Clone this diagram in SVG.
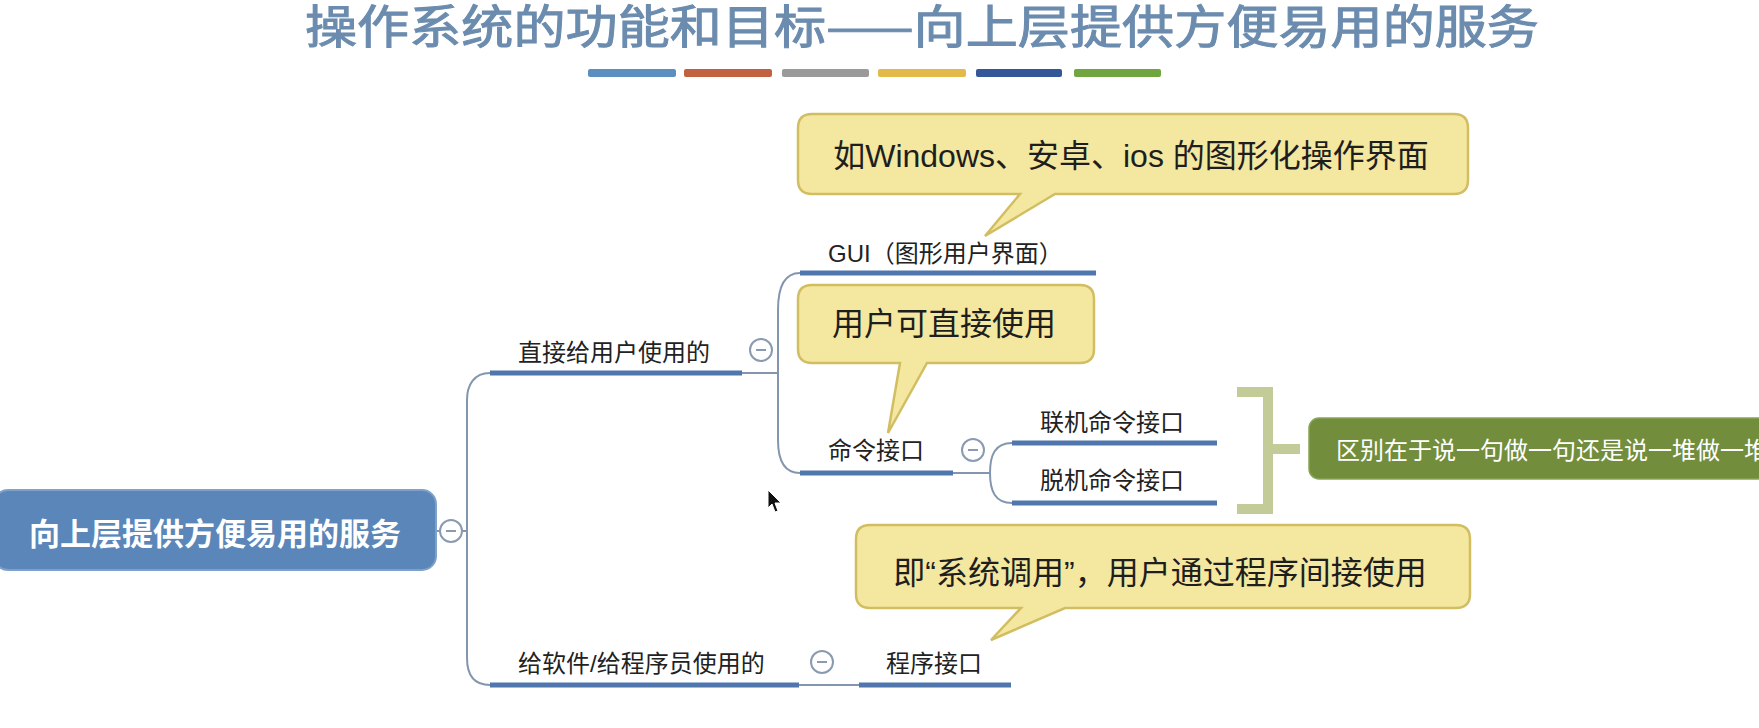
<svg xmlns="http://www.w3.org/2000/svg" width="1759" height="728" viewBox="0 0 1759 728">
<style>
.lbl{font-family:"Liberation Sans","Noto Sans CJK SC",sans-serif;font-size:24px;fill:#222}
.call{font-family:"Liberation Sans","Noto Sans CJK SC",sans-serif;font-size:32px;fill:#1e1e1e;text-anchor:middle}
.callout{fill:#f4e79f;stroke:#d2be62;stroke-width:2.5}
.ul{stroke:#4f77ad;stroke-width:5;fill:none;stroke-linecap:butt}
.conn{stroke:#8396ae;stroke-width:2;fill:none}
.tog circle{fill:#fff;stroke:#8a9ab0;stroke-width:2}
.tog line{stroke:#8a9ab0;stroke-width:2}
</style>
<rect width="1759" height="728" fill="#ffffff"/>
<g id="title">
<text x="305" y="43" font-family="Noto Sans CJK SC,sans-serif" font-size="46" fill="#6b8cae" stroke="#6b8cae" stroke-width="1" textLength="1234" lengthAdjust="spacingAndGlyphs">操作系统的功能和目标——向上层提供方便易用的服务</text>
<rect x="588" y="69" width="88" height="8" rx="2" fill="#5b8fc0"/>
<rect x="684" y="69" width="88" height="8" rx="2" fill="#c0623f"/>
<rect x="782" y="69" width="87" height="8" rx="2" fill="#9a9a9a"/>
<rect x="878" y="69" width="88" height="8" rx="2" fill="#e3b94a"/>
<rect x="976" y="69" width="86" height="8" rx="2" fill="#34579a"/>
<rect x="1074" y="69" width="87" height="8" rx="2" fill="#6fa640"/>
</g>
<g id="connectors">
<path class="conn" d="M436,531 H467"/>
<path class="conn" d="M490,373 C474,373 467,385 467,400 V658 C467,675 474,685 490,685"/>
<path class="conn" d="M742,373 H778"/>
<path class="conn" d="M800,273 C785,273 778,285 778,310 V440 C778,462 785,473 800,473"/>
<path class="conn" d="M953,473 H990"/>
<path class="conn" d="M1012,443 C995,443 990,455 990,473 C990,491 995,503 1012,503"/>
<path class="conn" d="M799,685 H859"/>
<path d="M1237,392 H1268 V509 H1237 M1268,449 H1300" fill="none" stroke="#c3cc98" stroke-width="10"/>
</g>
<g id="root">
<rect x="-6" y="490" width="442" height="80" rx="14" fill="#5a86b9" stroke="#7fa0c8" stroke-width="2"/>
<text x="215" y="545" text-anchor="middle" font-family="Liberation Sans,Noto Sans CJK SC,sans-serif" font-size="31" font-weight="bold" fill="#fff">向上层提供方便易用的服务</text>
<g class="tog"><circle cx="451" cy="531" r="11"/><line x1="446" y1="531" x2="456" y2="531"/></g>
</g>
<g id="n-direct">
<text class="lbl" x="518" y="361">直接给用户使用的</text>
<line class="ul" x1="490" y1="373" x2="742" y2="373"/>
<g class="tog"><circle cx="761" cy="350" r="11"/><line x1="756" y1="350" x2="766" y2="350"/></g>
</g>
<g id="n-gui">
<text class="lbl" x="828" y="262">GUI（图形用户界面）</text>
<line class="ul" x1="800" y1="273" x2="1096" y2="273"/>
</g>
<g id="n-cmd">
<text class="lbl" x="828" y="459">命令接口</text>
<line class="ul" x1="800" y1="473" x2="953" y2="473"/>
<g class="tog"><circle cx="973" cy="450" r="11"/><line x1="968" y1="450" x2="978" y2="450"/></g>
</g>
<g id="n-online">
<text class="lbl" x="1040" y="431">联机命令接口</text>
<line class="ul" x1="1012" y1="443" x2="1217" y2="443"/>
</g>
<g id="n-offline">
<text class="lbl" x="1040" y="489">脱机命令接口</text>
<line class="ul" x1="1012" y1="503" x2="1217" y2="503"/>
</g>
<g id="n-summary">
<rect x="1309" y="418" width="470" height="61" rx="10" fill="#728e3c" stroke="#8aa456" stroke-width="1.5"/>
<text x="1336" y="459" font-family="Liberation Sans,Noto Sans CJK SC,sans-serif" font-size="24" fill="#fff">区别在于说一句做一句还是说一堆做一堆</text>
</g>
<g id="n-soft">
<text class="lbl" x="518" y="672">给软件/给程序员使用的</text>
<line class="ul" x1="490" y1="685" x2="799" y2="685"/>
<g class="tog"><circle cx="822" cy="662" r="11"/><line x1="817" y1="662" x2="827" y2="662"/></g>
</g>
<g id="n-prog">
<text class="lbl" x="886" y="672">程序接口</text>
<line class="ul" x1="859" y1="685" x2="1011" y2="685"/>
</g>
<g id="c-gui">
<path class="callout" d="M812,114 H1454 Q1468,114 1468,128 V180 Q1468,194 1454,194 H1055 L985,236 L1020,194 H812 Q798,194 798,180 V128 Q798,114 812,114 Z"/>
<text class="call" x="1131" y="167" font-size="33">如Windows、安卓、ios 的图形化操作界面</text>
</g>
<g id="c-cmd">
<path class="callout" d="M812,285 H1080 Q1094,285 1094,299 V349 Q1094,363 1080,363 H927 L888,433 L900,363 H812 Q798,363 798,349 V299 Q798,285 812,285 Z"/>
<text class="call" x="944" y="335">用户可直接使用</text>
</g>
<g id="c-prog">
<path class="callout" d="M870,525 H1456 Q1470,525 1470,539 V594 Q1470,608 1456,608 H1065 L991,640 L1021,608 H870 Q856,608 856,594 V539 Q856,525 870,525 Z"/>
<text class="call" x="1160" y="584">即“系统调用”，用户通过程序间接使用</text>
</g>
<path id="cursor" d="M768,490 V508 L772,504 L775,512 L778,511 L775,503 L781,503 Z" fill="#111" stroke="#fff" stroke-width="1"/>
</svg>
